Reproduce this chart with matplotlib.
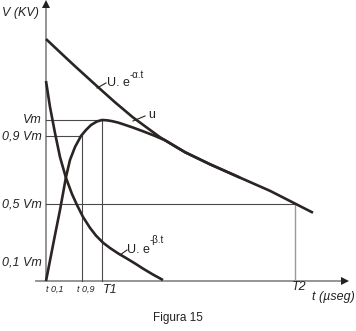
import matplotlib
matplotlib.use("Agg")
import matplotlib.pyplot as plt

plt.rcParams['font.family'] = ['Liberation Sans', 'DejaVu Sans']

# Curves (t in drawing units, V in units of Vm)
t_alpha = [0, 14, 29, 51, 69, 87, 114, 139, 164, 194, 224, 249, 267]
v_alpha = [1.503, 1.421, 1.334, 1.210, 1.110, 1.016, 0.893, 0.800, 0.725,
           0.642, 0.560, 0.481, 0.424]

t_beta = [0, 4, 9, 14, 20, 26, 31, 37, 44, 50, 57, 64, 72, 81, 89, 97, 107, 117]
v_beta = [1.242, 1.081, 0.919, 0.770, 0.640, 0.540, 0.472, 0.398, 0.330,
          0.282, 0.238, 0.205, 0.172, 0.139, 0.109, 0.077, 0.040, 0.006]

t_u = [0, 9, 14, 20, 24, 29, 35, 40, 45, 51, 56, 61, 66, 72, 77, 87, 97,
       109, 119, 139, 164, 194]
v_u = [0, 0.286, 0.441, 0.646, 0.752, 0.832, 0.901, 0.938, 0.969, 0.991,
       1.0, 0.998, 0.993, 0.984, 0.974, 0.953, 0.930, 0.901, 0.874, 0.800,
       0.725, 0.642]

# levels on the V axis
level_labels = ['Vm', '0,9 Vm', '0,5 Vm', '0,1 Vm']
level_v = [1.0, 0.9, 0.478, 0.118]

# characteristic times
t01, t09, T1, T2 = 0, 36, 56, 249


def px(x, y):
    # picture pixel -> data coords
    return x - 46, (281 - y) / 161


fig = plt.figure(figsize=(3.56, 3.31), dpi=100)
ax = fig.add_axes([0, 0, 1, 1])
ax.set_xlim(-46, 310)
ax.set_ylim(-50 / 161, 281 / 161)
ax.axis('off')

curve = '#2a2422'
guide = '#4a4a4a'

# axes with arrows
ax.plot([0, 0], [0, px(0, 6)[1]], color='#8c8c8c', lw=1.3)
ax.plot([px(36, 0)[0], px(343, 0)[0]], [0, 0], color='#8c8c8c', lw=1.3)
ax.plot([0], [px(0, 4)[1]], marker='^', color='#222222', ms=6, mew=0)
ax.plot([px(345, 0)[0]], [0], marker='>', color='#222222', ms=6, mew=0)

# guide lines
ax.plot([0, T1], [level_v[0]] * 2, color=guide, lw=0.8)
ax.plot([0, t09], [level_v[1]] * 2, color=guide, lw=0.8)
ax.plot([0, T2], [level_v[2]] * 2, color=guide, lw=0.8)
ax.plot([t09, t09], [0, level_v[1]], color=guide, lw=0.8)
ax.plot([T1, T1], [0, level_v[0]], color=guide, lw=0.8)
ax.plot([T2, T2], [0, level_v[2]], color='#9a9a9a', lw=1.0)

# curves
ax.plot(t_alpha, v_alpha, color=curve, lw=1.9, solid_capstyle='butt')
ax.plot(t_beta, v_beta, color=curve, lw=1.9, solid_capstyle='butt')
ax.plot(t_u, v_u, color=curve, lw=1.9, solid_capstyle='butt')

# level labels
for lab, v in zip(level_labels, level_v):
    ax.text(-4, v, lab, ha='right', va='center', fontsize=9, style='italic',
            color='#222222')

ax.text(*px(2, 13), 'V (KV)', ha='left', va='center', fontsize=9,
        style='italic', color='#222222')

# time labels
ax.text(*px(46, 289), 't 0,1', ha='left', va='center', fontsize=6.5,
        style='italic', color='#222222')
ax.text(*px(77, 289), 't 0,9', ha='left', va='center', fontsize=6.5,
        style='italic', color='#222222')
ax.text(*px(103, 290), 'T1', ha='left', va='center', fontsize=9,
        style='italic', color='#222222')
ax.text(*px(292, 287), 'T2', ha='left', va='center', fontsize=9,
        style='italic', color='#222222')
ax.text(*px(312, 297), 't (µseg)', ha='left', va='center', fontsize=9,
        style='italic', color='#222222')

# curve labels with leaders
ax.plot(*zip(px(97, 88), px(106, 83)), color=curve, lw=0.8)
ax.text(*px(107, 83), 'U. e', ha='left', va='center', fontsize=9,
        color='#222222')
ax.text(*px(130, 75), '-α.t', ha='left', va='center', fontsize=7,
        color='#222222')

ax.plot(*zip(px(133, 121), px(145, 116)), color=curve, lw=0.8)
ax.text(*px(148, 115), 'u', ha='left', va='center', fontsize=9,
        color='#222222')

ax.plot(*zip(px(120, 255), px(127, 250)), color=curve, lw=0.8)
ax.text(*px(127, 250), 'U. e', ha='left', va='center', fontsize=9,
        color='#222222')
ax.text(*px(150, 240), '-β.t', ha='left', va='center', fontsize=7,
        color='#222222')

ax.text(*px(178, 318), 'Figura 15', ha='center', va='center', fontsize=8.5,
        color='#222222')

fig.savefig('out.png', dpi=100)
